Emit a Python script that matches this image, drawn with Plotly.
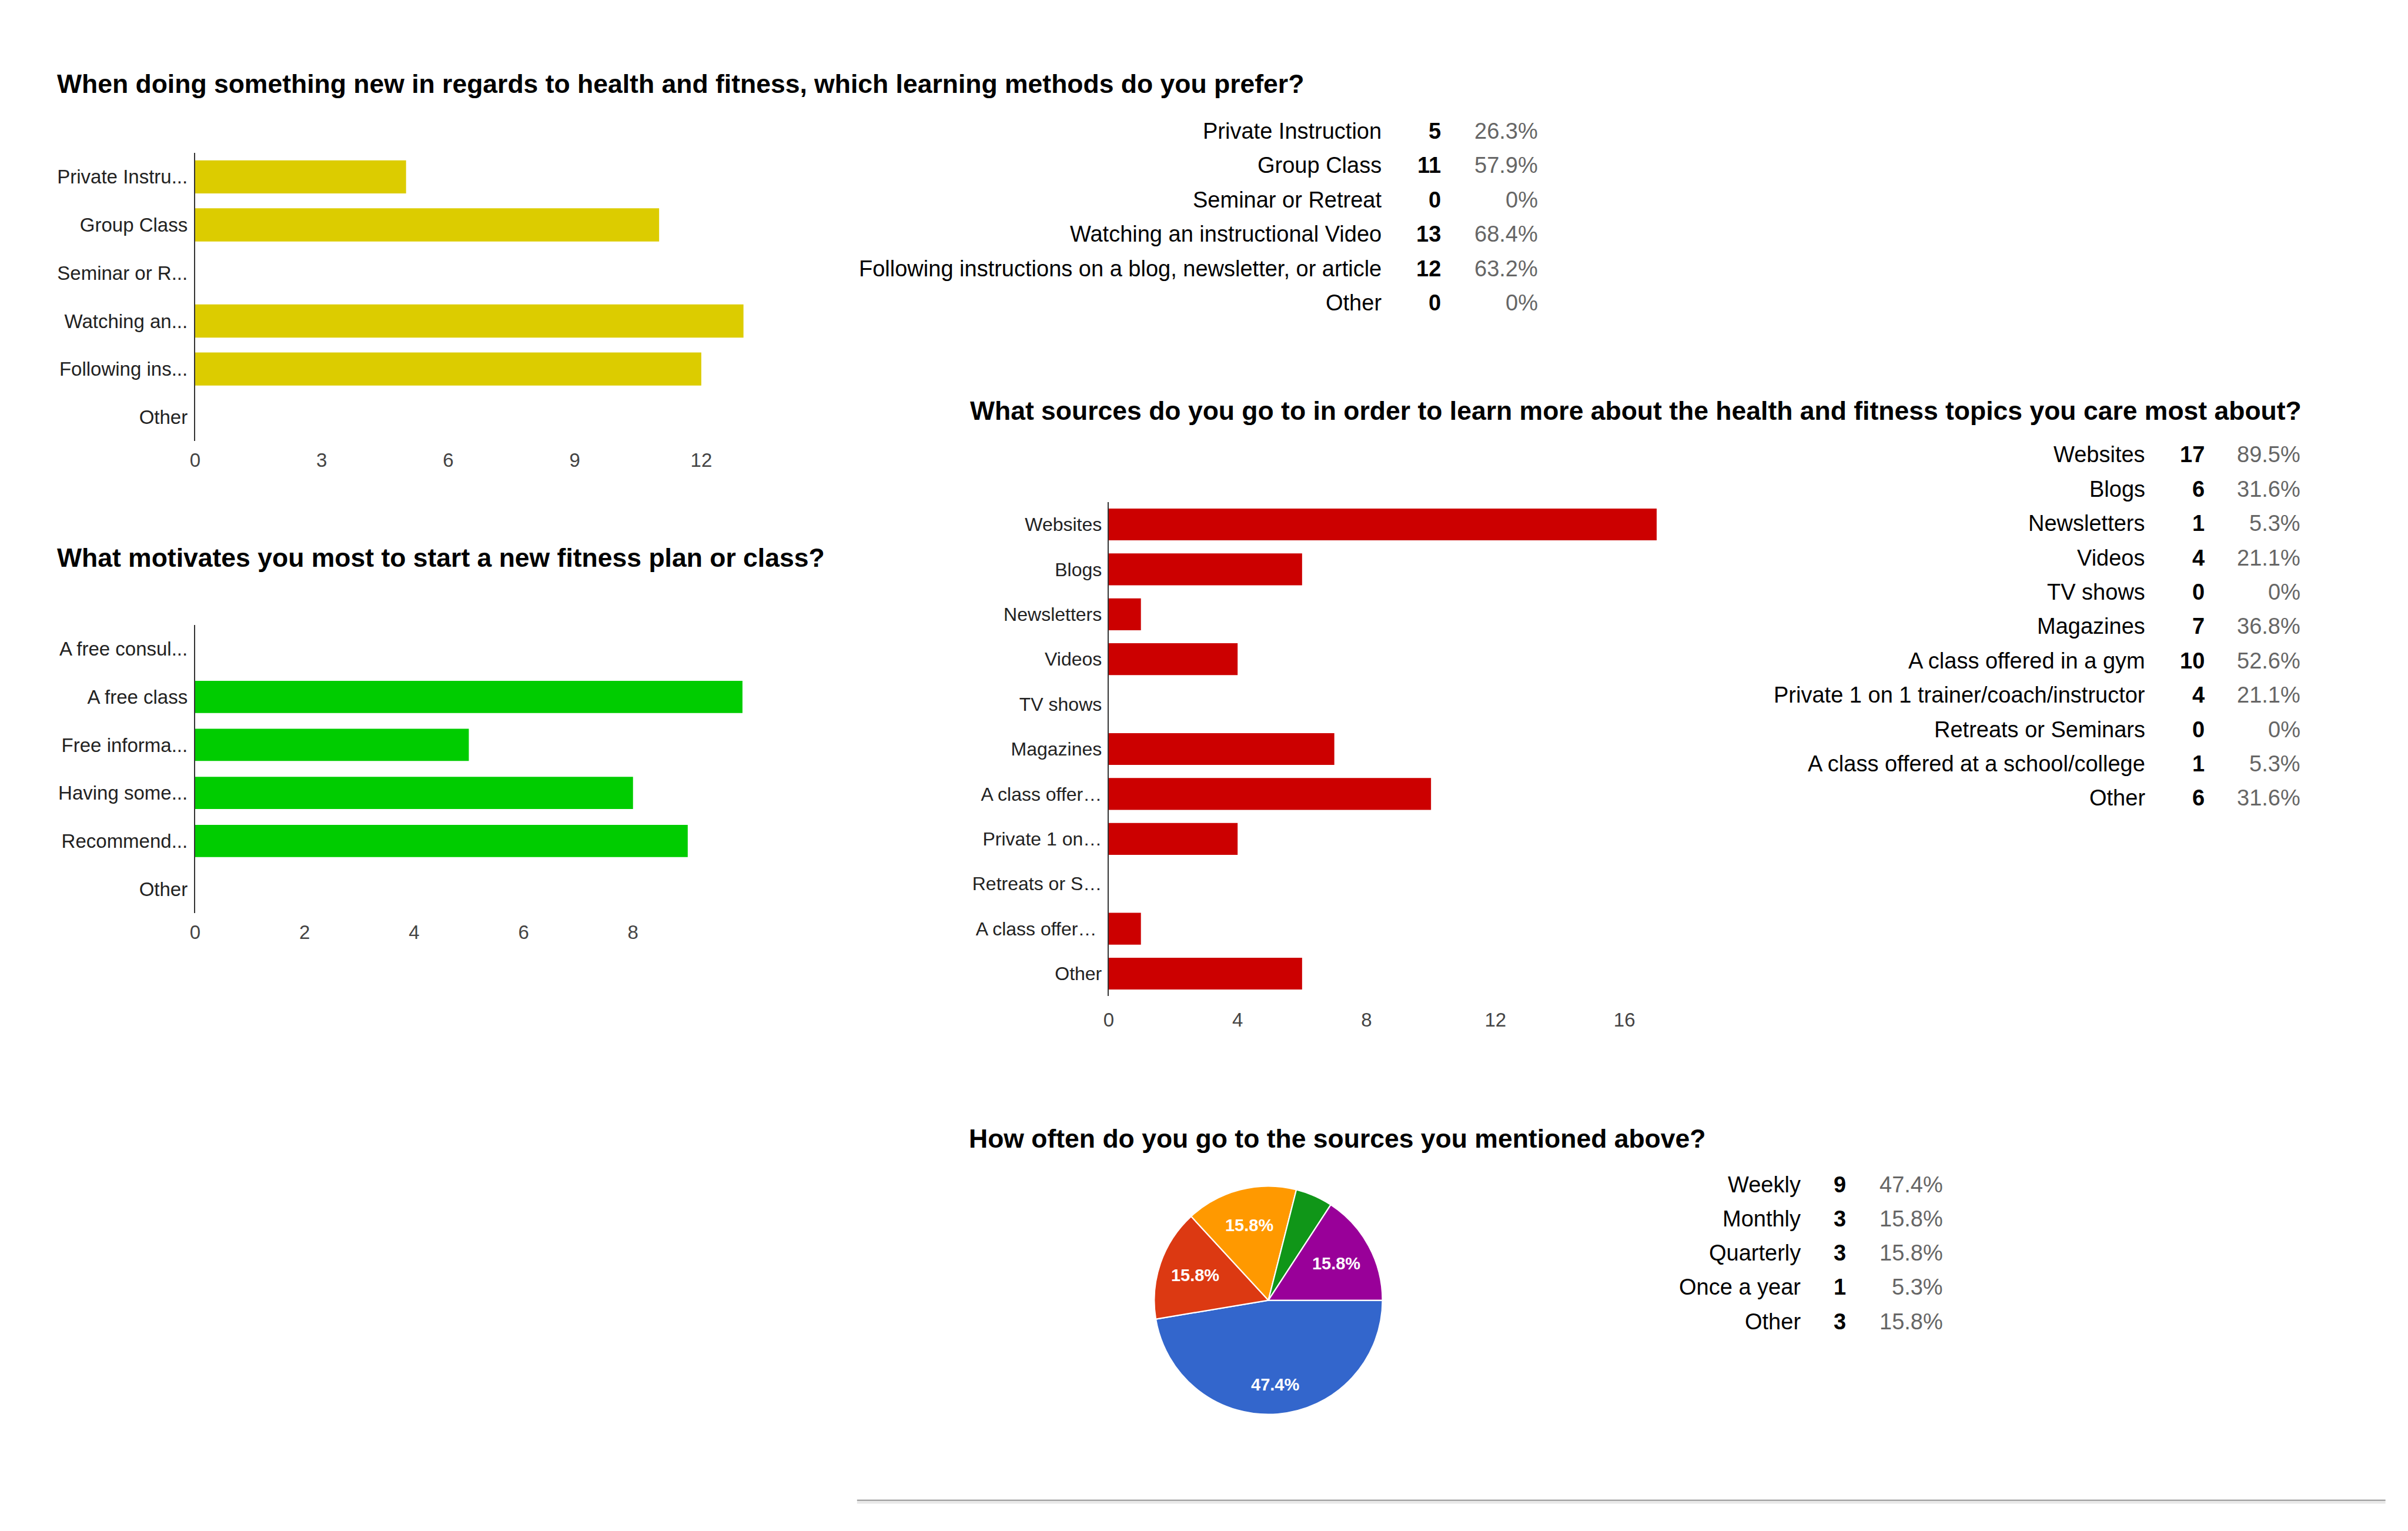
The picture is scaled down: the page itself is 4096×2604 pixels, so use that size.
import math
import plotly.graph_objects as go

W, H = 4096, 2604
N_RESP = 19

# ---------------- data ----------------
q1_title = "When doing something new in regards to health and fitness, which learning methods do you prefer?"
q1_names = ["Private Instruction", "Group Class", "Seminar or Retreat",
            "Watching an instructional Video",
            "Following instructions on a blog, newsletter, or article", "Other"]
q1_short = ["Private Instru...", "Group Class", "Seminar or R...", "Watching an...",
            "Following ins...", "Other"]
q1_counts = [5, 11, 0, 13, 12, 0]
q1_ticks = [0, 3, 6, 9, 12]

q2_title = "What motivates you most to start a new fitness plan or class?"
q2_short = ["A free consul...", "A free class", "Free informa...", "Having some...",
            "Recommend...", "Other"]
q2_counts = [0, 10, 5, 8, 9, 0]
q2_ticks = [0, 2, 4, 6, 8]

q3_title = "What sources do you go to in order to learn more about the health and fitness topics you care most about?"
q3_names = ["Websites", "Blogs", "Newsletters", "Videos", "TV shows", "Magazines",
            "A class offered in a gym", "Private 1 on 1 trainer/coach/instructor",
            "Retreats or Seminars", "A class offered at a school/college", "Other"]
q3_short = ["Websites", "Blogs", "Newsletters", "Videos", "TV shows", "Magazines",
            "A class offer\u2026", "Private 1 on\u2026", "Retreats or S\u2026",
            "A class offer\u2026 ", "Other"]
q3_counts = [17, 6, 1, 4, 0, 7, 10, 4, 0, 1, 6]
q3_ticks = [0, 4, 8, 12, 16]

q4_title = "How often do you go to the sources you mentioned above?"
q4_names = ["Weekly", "Monthly", "Quarterly", "Once a year", "Other"]
q4_counts = [9, 3, 3, 1, 3]
q4_colors = ["#3366cc", "#dc3912", "#ff9900", "#109618", "#990099"]

# ---------------- helpers ----------------
def px_x(x):
    return x / W

def px_y(y):
    return 1 - y / H

def pct(v, n):
    if v == 0:
        return "0%"
    return f"{v / n * 100:.1f}%"

ARIAL = "Liberation Sans, Arial, sans-serif"

fig = go.Figure()
annotations = []
shapes = []

TSIZE = 44.5

def title(text, x, baseline):
    annotations.append(dict(text=text, x=px_x(x), y=px_y(baseline - 15.5), xref="paper", yref="paper",
                            xanchor="left", yanchor="middle", showarrow=False,
                            font=dict(family=ARIAL, size=TSIZE, color="#000000", weight="bold")))

def table(names, counts, xl, xc, xp, base0, step, size=38):
    for i, (nm, c) in enumerate(zip(names, counts)):
        yc = px_y(base0 + i * step - 10.5)
        annotations.append(dict(text=nm, x=px_x(xl), y=yc, xref="paper", yref="paper",
                                xanchor="right", yanchor="middle", showarrow=False,
                                font=dict(family=ARIAL, size=size, color="#000000")))
        annotations.append(dict(text=str(c), x=px_x(xc), y=yc, xref="paper", yref="paper",
                                xanchor="right", yanchor="middle", showarrow=False,
                                font=dict(family=ARIAL, size=size, color="#000000", weight="bold")))
        annotations.append(dict(text=pct(c, N_RESP), x=px_x(xp), y=yc, xref="paper", yref="paper",
                                xanchor="right", yanchor="middle", showarrow=False,
                                font=dict(family=ARIAL, size=size, color="#666666")))

# ---------------- chart 1 ----------------
fig.add_trace(go.Bar(x=q1_counts, y=q1_short, orientation="h", width=0.69,
                     marker=dict(color="#dccc00", line=dict(width=0)),
                     xaxis="x", yaxis="y", showlegend=False))
# ---------------- chart 2 ----------------
fig.add_trace(go.Bar(x=q2_counts, y=q2_short, orientation="h", width=0.67,
                     marker=dict(color="#00cc00", line=dict(width=0)),
                     xaxis="x2", yaxis="y2", showlegend=False))
# ---------------- chart 3 ----------------
fig.add_trace(go.Bar(x=q3_counts, y=q3_short, orientation="h", width=0.71,
                     marker=dict(color="#cc0000", line=dict(width=0)),
                     xaxis="x3", yaxis="y3", showlegend=False))

# ---------------- pie ----------------
tot = sum(q4_counts)
cx, cy, r = 2153.2, 2211.6, 194.5
ROT = 90.0
# the largest slice's label is placed further out (as in the original), the rest by plotly
pie_text = []
big = q4_counts.index(max(q4_counts))
cum = 0.0
for i, v in enumerate(q4_counts):
    frac = v / tot
    mid = ROT + (cum + frac / 2) * 360.0
    cum += frac
    if frac < 0.1:
        pie_text.append("")
    elif i == big:
        pie_text.append("")
        rho = 0.74 * r
        lx = cx + rho * math.sin(math.radians(mid))
        ly = cy - rho * math.cos(math.radians(mid))
        annotations.append(dict(text=pct(v, tot), x=px_x(lx), y=px_y(ly), xref="paper", yref="paper",
                                xanchor="center", yanchor="middle", showarrow=False,
                                font=dict(family=ARIAL, size=29, color="#ffffff", weight="bold")))
    else:
        pie_text.append(pct(v, tot))

fig.add_trace(go.Pie(values=q4_counts, labels=q4_names, sort=False, direction="clockwise",
                     rotation=ROT, text=pie_text, textinfo="text", textposition="inside",
                     insidetextorientation="horizontal",
                     textfont=dict(family=ARIAL, size=29, color="#ffffff", weight="bold"),
                     marker=dict(colors=q4_colors, line=dict(color="#ffffff", width=2.2)),
                     domain=dict(x=[px_x(cx - r), px_x(cx + r)], y=[px_y(cy + r), px_y(cy - r)]),
                     showlegend=False, hoverinfo="skip"))

def xax(domain, rng, ticks, standoff, anchor):
    return dict(domain=domain, range=rng, tickvals=ticks, showgrid=False, zeroline=False,
                showline=False, ticks="", ticklabelstandoff=standoff, anchor=anchor,
                tickfont=dict(family=ARIAL, size=33, color="#444444"), fixedrange=True)

def yax(domain, anchor, standoff, order, size):
    return dict(domain=domain, anchor=anchor, showgrid=False, zeroline=False, showline=True,
                linecolor="#333333", linewidth=2.4, ticks="", ticklabelstandoff=standoff,
                categoryorder="array", categoryarray=order, autorange="reversed",
                tickfont=dict(family=ARIAL, size=size, color="#222222"), fixedrange=True)

x1l = 323.7
fig.update_layout(
    xaxis=xax([px_x(x1l), px_x(x1l + 14 * 71.9)], [0, 14], q1_ticks, 10, "y"),
    yaxis=yax([px_y(750.2), px_y(260.0)], "x", 4, q1_short, 33),
    xaxis2=xax([px_x(x1l), px_x(x1l + 11 * 93.3)], [0, 11], q2_ticks, 10, "y2"),
    yaxis2=yax([px_y(1553.0), px_y(1062.7)], "x2", 4, q2_short, 33),
    xaxis3=xax([px_x(1881.0), px_x(1881.0 + 18 * 54.95)], [0, 18], q3_ticks, 18, "y3"),
    yaxis3=yax([px_y(1694.2), px_y(853.8)], "x3", 3, q3_short, 32),
)

# titles
title(q1_title, 86, 158.4)
title(q2_title, 86, 964.0)
title(q3_title, 1643.0, 713.8)
title(q4_title, 1641.0, 1951.6)

# tables
table(q1_names, q1_counts, 2348.0, 2449.5, 2615.0, 233.4, 58.4)
table(q3_names, q3_counts, 3650.0, 3751.0, 3915.0, 783.9, 58.4)
table(q4_names, q4_counts, 3063.0, 3139.5, 3305.5, 2025.2, 58.2)

# bottom rule
shapes.append(dict(type="rect", xref="paper", yref="paper", x0=px_x(1452), x1=px_x(4057.6),
                   y0=px_y(2557.5), y1=px_y(2552.5), fillcolor="#e8e8e8", line=dict(width=0)))
shapes.append(dict(type="line", xref="paper", yref="paper", x0=px_x(1452), x1=px_x(4057.6),
                   y0=px_y(2551.6), y1=px_y(2551.6), line=dict(color="#888888", width=1.8)))

fig.update_layout(width=W, height=H, margin=dict(l=0, r=0, t=0, b=0),
                  paper_bgcolor="#ffffff", plot_bgcolor="#ffffff",
                  annotations=annotations, shapes=shapes, bargap=0.3)

fig.write_html("out.html", config={"displayModeBar": False})
